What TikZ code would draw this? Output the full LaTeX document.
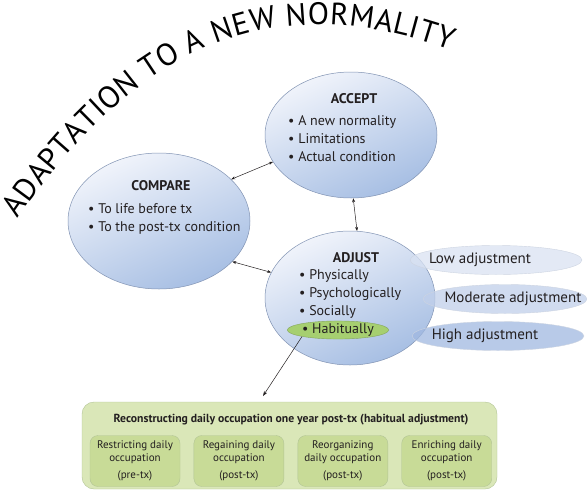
\documentclass[tikz,border=0pt]{standalone}
\usepackage{fontspec}
\setmainfont{PT Sans}
\usetikzlibrary{arrows.meta,positioning,shapes.geometric,decorations.text}

\definecolor{ballhi}{HTML}{F1F4FB}
\definecolor{balllo}{HTML}{A6BEE3}
\definecolor{ballrim}{HTML}{8193B3}
\definecolor{lowblue}{HTML}{D9E2F2}
\definecolor{modblue}{HTML}{C0CFEA}
\definecolor{highblue}{HTML}{A0B8E0}
\definecolor{habgreen}{HTML}{A6CF70}
\definecolor{boxgreen}{HTML}{DAE7B8}
\definecolor{cellgreen}{HTML}{C8DB97}
\definecolor{boxrim}{HTML}{B2C495}
\definecolor{ink}{HTML}{231F20}
\newcommand\arcfont{\fontsize{31}{31}\selectfont}

\begin{document}
\begin{tikzpicture}[x=1pt,y=-1pt,color=ink,
    ball/.style={ellipse,draw=ballrim,line width=0.5pt,top color=ballhi,bottom color=balllo,shading angle=25},
    head/.style={font=\bfseries\fontsize{14}{16}\selectfont},
    items/.style={align=left,inner sep=0pt,font=\fontsize{14}{18}\selectfont},
    level/.style={ellipse,draw=ballrim!40,fill opacity=0.75,minimum height=29pt},
    leveltext/.style={font=\fontsize{15}{17}\selectfont},
    twoway/.style={{Stealth[length=4pt,width=3pt]}-{Stealth[length=4pt,width=3pt]},line width=0.5pt},
    cell/.style={draw=boxrim,fill=cellgreen,rounded corners=8pt,minimum width=90pt,minimum height=51pt,align=center,font=\fontsize{11}{12.5}\selectfont}]
    \useasboundingbox (0,0) rectangle (587,496);

    % title along the arc
    \path[decorate,decoration={text along path,text align={fit to path},
        text={|\arcfont|ADAPTATION TO A NEW NORMALITY}}]
        (18,219) .. controls (140,40) and (278,-13) .. (450,50);

    % the three phases
    \node[ball,minimum width=172pt,minimum height=126pt] (accept) at (351,135) {};
    \node[ball,minimum width=182pt,minimum height=136pt] (compare) at (159,221) {};
    \node[ball,minimum width=170pt,minimum height=134pt] (adjust) at (350,298) {};

    % levels of adjustment
    \node[level,fill=lowblue,minimum width=172pt] (low) at (496,260) {};
    \node[level,fill=modblue,minimum width=164pt] (moderate) at (505,299) {};
    \node[level,fill=highblue,minimum width=172pt] (high) at (498,336) {};
    \node[leveltext] (lowtxt) at ([xshift=-16pt]low.center) {Low adjustment};
    \node[leveltext] (modtxt) at ([xshift=8pt]moderate.center) {Moderate adjustment};
    \node[leveltext] (hightxt) at ([xshift=-13pt]high.center) {High adjustment};

    \node[head] (accepthead) at (354,99) {ACCEPT};
    \node[items,anchor=west] (acceptitems) at (288,139) {• A new normality\\• Limitations\\• Actual condition};
    \node[head] (comparehead) at (161,186) {COMPARE};
    \node[items,anchor=west] (compareitems) at (88,219) {• To life before tx\\• To the post-tx condition};
    \node[head] (adjusthead) at (356,258) {ADJUST};
    \node[items,anchor=west] (adjustitems) at (299,294) {• Physically\\• Psychologically\\• Socially};
    \node[items,ellipse,fill=habgreen,draw=habgreen!80!black,line width=0.4pt,minimum width=92pt,minimum height=18pt] (habit) at (338,330) {• Habitually};

    % habitual adjustment
    \node[draw=boxrim,fill=boxgreen,rounded corners=12pt,minimum width=415pt,minimum height=87pt] (occbox) at (289.5,445.5) {};
    \node[font=\bfseries\fontsize{11.7}{13}\selectfont] (occtitle) at (291,420) {Reconstructing daily occupation one year post-tx (habitual adjustment)};
    \node[cell] (restrict) at (135,461) {Restricting daily\\occupation\\[5pt](pre-tx)};
    \node[cell,right=13.5pt of restrict] (regain) {Regaining daily\\occupation\\[5pt](post-tx)};
    \node[cell,right=13.5pt of regain] (reorg) {Reorganizing\\daily occupation\\[5pt](post-tx)};
    \node[cell,right=13.5pt of reorg] (enrich) {Enriching daily\\occupation\\[5pt](post-tx)};

    \draw[twoway] (compare.30) -- (accept.199);
    \draw[twoway] (compare.-29) -- (adjust.162);
    \draw[twoway] (accept.272) -- (adjust.84);
    \coordinate (boxin) at (263,396);
    \draw[-{Stealth[length=5pt,width=3.5pt]},line width=0.5pt] (habit.south west) -- (boxin);
\end{tikzpicture}
\end{document}
